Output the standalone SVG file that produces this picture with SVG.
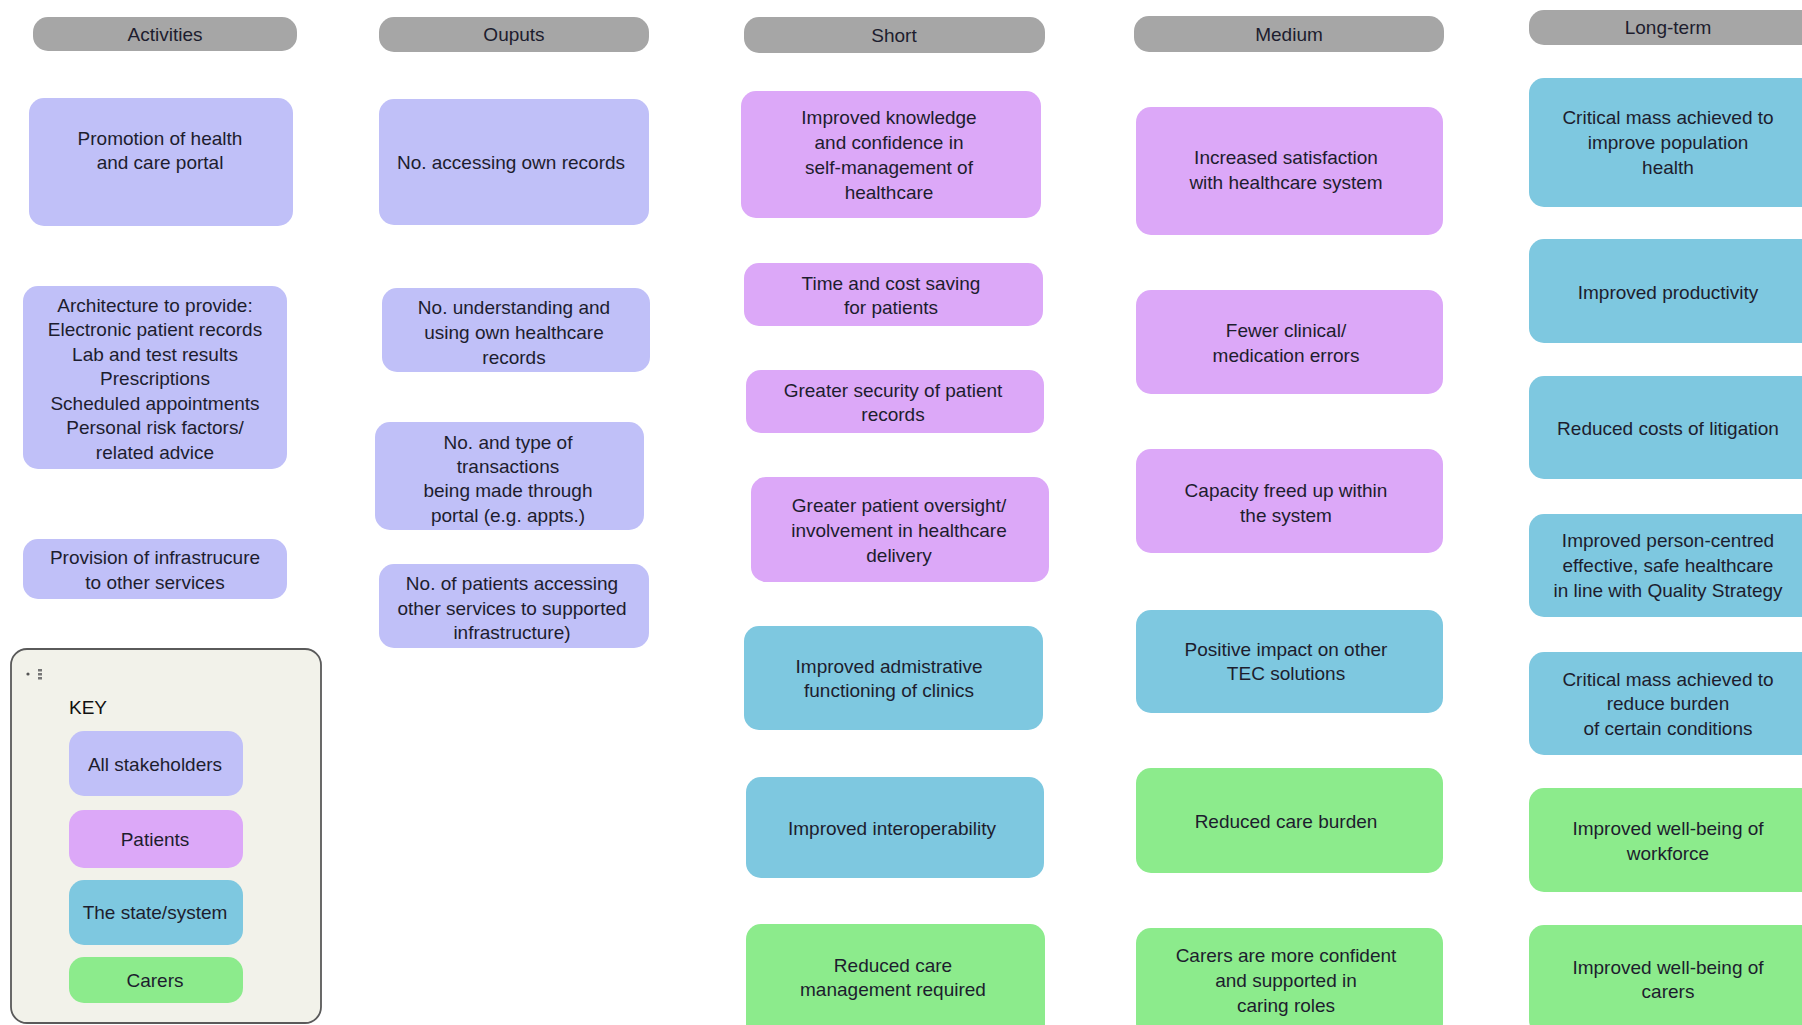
<svg xmlns="http://www.w3.org/2000/svg" width="1802" height="1025" viewBox="0 0 1802 1025">
<style>
text{font-family:"Liberation Sans",Arial,sans-serif;font-size:19px;fill:#1d1d2e;text-anchor:middle}
.hd{fill:#a6a6a6}
.all{fill:#c0c0f8}
.pat{fill:#dca8f8}
.sys{fill:#7ec8e0}
.car{fill:#8ceb8c}
.key{fill:#f2f2ea;stroke:#5a5a5a;stroke-width:1.8}
</style>
<rect width="1802" height="1025" fill="#ffffff"/>
<g id="headers">
<g id="h-activities"><rect class="hd" x="33" y="17" width="264" height="34" rx="15"/><text x="165" y="40.5">Activities</text></g>
<g id="h-outputs"><rect class="hd" x="379" y="17" width="270" height="35" rx="15"/><text x="514" y="41">Ouputs</text></g>
<g id="h-short"><rect class="hd" x="744" y="17" width="301" height="36" rx="15"/><text x="894" y="41.5">Short</text></g>
<g id="h-medium"><rect class="hd" x="1134" y="16" width="310" height="36" rx="15"/><text x="1289" y="40.5">Medium</text></g>
<g id="h-long"><rect class="hd" x="1529" y="10" width="290" height="35" rx="15"/><text x="1668" y="33.5">Long-term</text></g>
</g>
<g id="activities">
<g id="a1"><rect class="all" x="29" y="98" width="264" height="128" rx="15"/><text><tspan x="160" y="144.5">Promotion of health</tspan><tspan x="160" y="168.5">and care portal</tspan></text></g>
<g id="a2"><rect class="all" x="23" y="286" width="264" height="183" rx="15"/><text><tspan x="155" y="311.5">Architecture to provide:</tspan><tspan x="155" y="336">Electronic patient records</tspan><tspan x="155" y="360.5">Lab and test results</tspan><tspan x="155" y="385">Prescriptions</tspan><tspan x="155" y="409.5">Scheduled appointments</tspan><tspan x="155" y="434">Personal risk factors/</tspan><tspan x="155" y="458.5">related advice</tspan></text></g>
<g id="a3"><rect class="all" x="23" y="539" width="264" height="60" rx="15"/><text><tspan x="155" y="563.5">Provision of infrastrucure</tspan><tspan x="155" y="588.5">to other services</tspan></text></g>
</g>
<g id="outputs">
<g id="o1"><rect class="all" x="379" y="99" width="270" height="126" rx="15"/><text x="511" y="168.5">No. accessing own records</text></g>
<g id="o2"><rect class="all" x="382" y="288" width="268" height="84" rx="15"/><text><tspan x="514" y="313.5">No. understanding and</tspan><tspan x="514" y="338.5">using own healthcare</tspan><tspan x="514" y="363.5">records</tspan></text></g>
<g id="o3"><rect class="all" x="375" y="422" width="269" height="108" rx="15"/><text><tspan x="508" y="448.5">No. and type of</tspan><tspan x="508" y="472.5">transactions</tspan><tspan x="508" y="496.5">being made through</tspan><tspan x="508" y="521.5">portal (e.g. appts.)</tspan></text></g>
<g id="o4"><rect class="all" x="379" y="564" width="270" height="84" rx="15"/><text><tspan x="512" y="589.5">No. of patients accessing</tspan><tspan x="512" y="614.5">other services to supported</tspan><tspan x="512" y="638.5">infrastructure)</tspan></text></g>
</g>
<g id="short">
<g id="s1"><rect class="pat" x="741" y="91" width="300" height="127" rx="15"/><text><tspan x="889" y="123.5">Improved knowledge</tspan><tspan x="889" y="148.5">and confidence in</tspan><tspan x="889" y="173.5">self-management of</tspan><tspan x="889" y="198.5">healthcare</tspan></text></g>
<g id="s2"><rect class="pat" x="744" y="263" width="299" height="63" rx="15"/><text><tspan x="891" y="289.5">Time and cost saving</tspan><tspan x="891" y="313.5">for patients</tspan></text></g>
<g id="s3"><rect class="pat" x="746" y="370" width="298" height="63" rx="15"/><text><tspan x="893" y="396.5">Greater security of patient</tspan><tspan x="893" y="420.5">records</tspan></text></g>
<g id="s4"><rect class="pat" x="751" y="477" width="298" height="105" rx="15"/><text><tspan x="899" y="511.5">Greater patient oversight/</tspan><tspan x="899" y="536.5">involvement in healthcare</tspan><tspan x="899" y="561.5">delivery</tspan></text></g>
<g id="s5"><rect class="sys" x="744" y="626" width="299" height="104" rx="15"/><text><tspan x="889" y="672.5">Improved admistrative</tspan><tspan x="889" y="696.5">functioning of clinics</tspan></text></g>
<g id="s6"><rect class="sys" x="746" y="777" width="298" height="101" rx="15"/><text x="892" y="834.5">Improved interoperability</text></g>
<g id="s7"><rect class="car" x="746" y="924" width="299" height="115" rx="15"/><text><tspan x="893" y="971.5">Reduced care</tspan><tspan x="893" y="995.5">management required</tspan></text></g>
</g>
<g id="medium">
<g id="m1"><rect class="pat" x="1136" y="107" width="307" height="128" rx="15"/><text><tspan x="1286" y="163.5">Increased satisfaction</tspan><tspan x="1286" y="188.5">with healthcare system</tspan></text></g>
<g id="m2"><rect class="pat" x="1136" y="290" width="307" height="104" rx="15"/><text><tspan x="1286" y="336.5">Fewer clinical/</tspan><tspan x="1286" y="361.5">medication errors</tspan></text></g>
<g id="m3"><rect class="pat" x="1136" y="449" width="307" height="104" rx="15"/><text><tspan x="1286" y="496.5">Capacity freed up within</tspan><tspan x="1286" y="521.5">the system</tspan></text></g>
<g id="m4"><rect class="sys" x="1136" y="610" width="307" height="103" rx="15"/><text><tspan x="1286" y="655.5">Positive impact on other</tspan><tspan x="1286" y="679.5">TEC solutions</tspan></text></g>
<g id="m5"><rect class="car" x="1136" y="768" width="307" height="105" rx="15"/><text x="1286" y="827.5">Reduced care burden</text></g>
<g id="m6"><rect class="car" x="1136" y="928" width="307" height="110" rx="15"/><text><tspan x="1286" y="961.5">Carers are more confident</tspan><tspan x="1286" y="986.5">and supported in</tspan><tspan x="1286" y="1011.5">caring roles</tspan></text></g>
</g>
<g id="longterm">
<g id="l1"><rect class="sys" x="1529" y="78" width="290" height="129" rx="15"/><text><tspan x="1668" y="123.5">Critical mass achieved to</tspan><tspan x="1668" y="148.5">improve population</tspan><tspan x="1668" y="173.5">health</tspan></text></g>
<g id="l2"><rect class="sys" x="1529" y="239" width="290" height="104" rx="15"/><text x="1668" y="298.5">Improved productivity</text></g>
<g id="l3"><rect class="sys" x="1529" y="376" width="290" height="103" rx="15"/><text x="1668" y="434.5">Reduced costs of litigation</text></g>
<g id="l4"><rect class="sys" x="1529" y="514" width="290" height="103" rx="15"/><text><tspan x="1668" y="546.5">Improved person-centred</tspan><tspan x="1668" y="571.5">effective, safe healthcare</tspan><tspan x="1668" y="596.5">in line with Quality Strategy</tspan></text></g>
<g id="l5"><rect class="sys" x="1529" y="652" width="290" height="103" rx="15"/><text><tspan x="1668" y="685.5">Critical mass achieved to</tspan><tspan x="1668" y="709.5">reduce burden</tspan><tspan x="1668" y="734.5">of certain conditions</tspan></text></g>
<g id="l6"><rect class="car" x="1529" y="788" width="290" height="104" rx="15"/><text><tspan x="1668" y="834.5">Improved well-being of</tspan><tspan x="1668" y="859.5">workforce</tspan></text></g>
<g id="l7"><rect class="car" x="1529" y="925" width="290" height="110" rx="15"/><text><tspan x="1668" y="973.5">Improved well-being of</tspan><tspan x="1668" y="997.5">carers</tspan></text></g>
</g>
<g id="legend">
<rect class="key" x="11" y="649" width="310" height="374" rx="16"/>
<circle cx="28" cy="674" r="1.6" fill="#555"/>
<rect x="38" y="669" width="4" height="2.5" fill="#777"/>
<rect x="38" y="673" width="4" height="2.5" fill="#777"/>
<rect x="38" y="677" width="4" height="2.5" fill="#777"/>
<text x="69" y="714" style="text-anchor:start;fill:#111">KEY</text>
<g id="k1"><rect class="all" x="69" y="731" width="174" height="65" rx="15"/><text x="155" y="771">All stakeholders</text></g>
<g id="k2"><rect class="pat" x="69" y="810" width="174" height="58" rx="15"/><text x="155" y="846">Patients</text></g>
<g id="k3"><rect class="sys" x="69" y="880" width="174" height="65" rx="15"/><text x="155" y="919">The state/system</text></g>
<g id="k4"><rect class="car" x="69" y="957" width="174" height="46" rx="15"/><text x="155" y="987">Carers</text></g>
</g>
<g id="connectors"/>
</svg>
